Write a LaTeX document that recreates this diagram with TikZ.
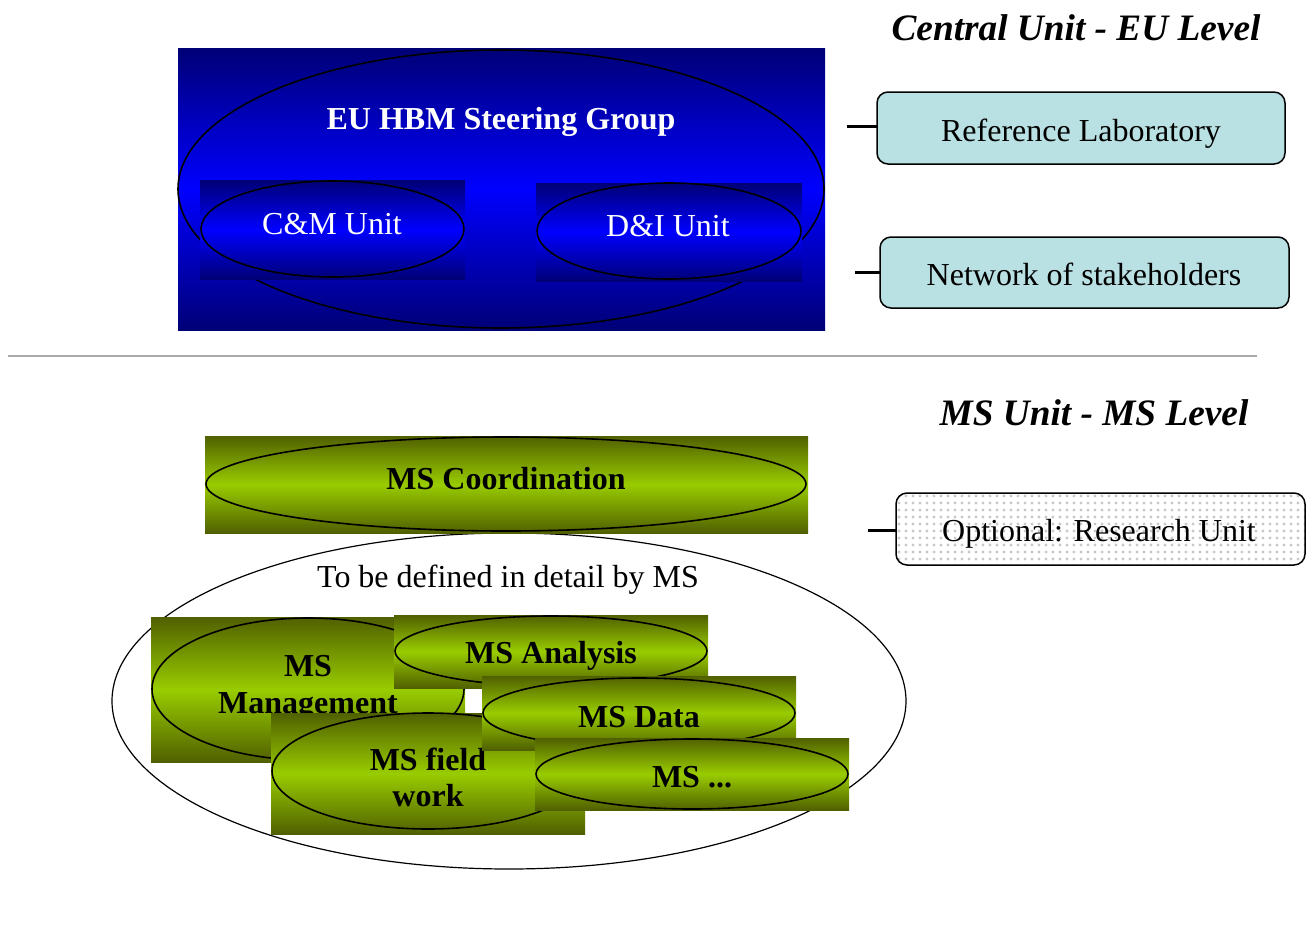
\documentclass[tikz,border=0pt]{standalone}
\usepackage{fontspec}
\setmainfont{Liberation Serif}
\usetikzlibrary{shapes.geometric}

\definecolor{navyD}{RGB}{0,0,118}
\definecolor{blueB}{RGB}{0,0,255}
\definecolor{oliveD}{RGB}{80,96,0}
\definecolor{limeB}{RGB}{153,204,0}
\definecolor{paleCyan}{RGB}{185,224,226}
\definecolor{dotGray}{RGB}{200,200,200}
\definecolor{ruleGray}{RGB}{170,170,170}

\begin{document}
\begin{tikzpicture}[x=1pt,y=-1pt,
  every node/.style={inner sep=0pt, outer sep=0pt},
  blueband/.style={rectangle, draw=none, top color=navyD, bottom color=navyD, middle color=blueB},
  greenband/.style={rectangle, draw=none, top color=oliveD, bottom color=oliveD, middle color=limeB},
  ring/.style={ellipse, draw=black, line width=1.6pt, fill=none},
  thinring/.style={ellipse, draw=black, line width=1.2pt, fill=none},
  sidebox/.style={rectangle, rounded corners=11pt, draw=black, line width=1.5pt,
    fill=paleCyan, minimum width=408pt, minimum height=72pt},
  dotbox/.style={rectangle, rounded corners=11pt, draw=black, line width=1.5pt,
    fill=white, minimum width=409pt, minimum height=72pt,
    path picture={
      \foreach \i in {0,...,59}{\foreach \j in {0,...,10}{
        \fill[dotGray] ([shift={(3pt+\i*7pt,-3pt-\j*7pt)}]path picture bounding box.north west) circle (1.7pt);}}}},
  stub/.style={line width=3pt, draw=black},
  plain/.style={font=\fontsize{32}{38}\selectfont, anchor=base},
  heavy/.style={font=\fontsize{32}{37}\selectfont\bfseries, anchor=base, align=center},
  title/.style={font=\fontsize{37.3}{43}\selectfont\bfseries\itshape, anchor=base},
]
\useasboundingbox (0,0) rectangle (1312,937);

% ---------- EU level ----------
\node[blueband, minimum width=647pt, minimum height=282pt] (steerBg) at (501.5,189) {};
\node[ring, minimum width=646pt, minimum height=278pt] (steerRing) at (501,189) {};
\node[heavy, text=white] (steerTxt) at (501,129) {EU HBM Steering Group};

\node[blueband, minimum width=265pt, minimum height=99pt] (cmBg) at (332.5,229.5) {};
\node[ring, minimum width=263pt, minimum height=96pt] (cmRing) at (332.5,229) {};
\node[plain, text=white] (cmTxt) at (332,234) {C\&M Unit};

\node[blueband, minimum width=266pt, minimum height=98pt] (diBg) at (669,232) {};
\node[ring, minimum width=264pt, minimum height=96pt] (diRing) at (669,231) {};
\node[plain, text=white] (diTxt) at (668,236) {D\&I Unit};

\node[title] (euTitle) at (1076,40) {Central Unit - EU Level};

\node[sidebox] (refLab) at (1081,128) {};
\node[plain] (refLabTxt) at (1081,141) {Reference Laboratory};
\node[sidebox, minimum width=409pt, minimum height=71pt] (network) at (1084.5,272.5) {};
\node[plain] (networkTxt) at (1084,285) {Network of stakeholders};

\coordinate (refStub) at (847,126);
\coordinate (netStub) at (855,272);
\draw[stub] (refStub) -- (refLab.west |- refStub);
\draw[stub] (netStub) -- (network.west |- netStub);

% ---------- separator ----------
\coordinate (ruleL) at (8,356);
\coordinate (ruleR) at (1257,356);
\draw[ruleGray, line width=2pt] (ruleL) -- (ruleR);

% ---------- MS level ----------
\node[title] (msTitle) at (1094,425) {MS Unit - MS Level};

\node[dotbox] (research) at (1100.5,529) {};
\node[plain] (researchTxt) at (1099,541) {Optional: Research Unit};
\coordinate (resStub) at (868,530);
\draw[stub] (resStub) -- (research.west |- resStub);

\node[thinring, minimum width=794pt, minimum height=336pt] (msScope) at (509,701) {};
\node[plain] (msScopeTxt) at (508,587) {To be defined in detail by MS};

\node[greenband, minimum width=603pt, minimum height=97pt] (coordBg) at (506.5,484.5) {};
\node[ring, minimum width=600pt, minimum height=94pt] (coordRing) at (506,484) {};
\node[heavy] (coordTxt) at (506,489) {MS Coordination};

\node[greenband, minimum width=314pt, minimum height=145pt] (mgmtBg) at (308,689.5) {};
\node[ring, minimum width=312pt, minimum height=142pt] (mgmtRing) at (308,689) {};
\node[heavy] (mgmtTxtA) at (308,676) {MS};
\node[heavy] (mgmtTxtB) at (308,713) {Management};

\node[greenband, minimum width=314pt, minimum height=73pt] (anaBg) at (551,651.5) {};
\node[ring, minimum width=312pt, minimum height=70pt] (anaRing) at (551,651) {};
\node[heavy] (anaTxt) at (551,663) {MS Analysis};

\node[greenband, minimum width=314pt, minimum height=121pt] (fieldBg) at (428,773.5) {};
\node[ring, minimum width=312pt, minimum height=116pt] (fieldRing) at (428,771) {};
\node[heavy] (fieldTxtA) at (428,770) {MS field};
\node[heavy] (fieldTxtB) at (428,806) {work};

\node[greenband, minimum width=314pt, minimum height=74pt] (dataBg) at (639,713) {};
\node[ring, minimum width=312pt, minimum height=70pt] (dataRing) at (639,713) {};
\node[heavy] (dataTxt) at (639,727) {MS Data};

\node[greenband, minimum width=314pt, minimum height=72pt] (moreBg) at (692,774) {};
\node[ring, minimum width=312pt, minimum height=70pt] (moreRing) at (692,774) {};
\node[heavy] (moreTxt) at (692,787) {MS ...};
\end{tikzpicture}
\end{document}
